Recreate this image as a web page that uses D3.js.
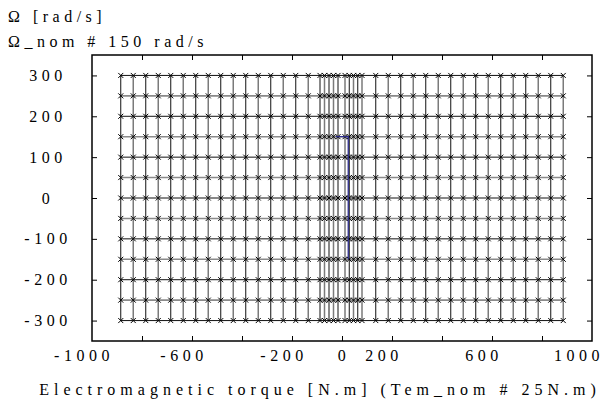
<!DOCTYPE html>
<html>
<head>
<meta charset="utf-8">
<script src="https://cdn.jsdelivr.net/npm/d3@7"></script>
<style>
  body { margin: 0; background: #fff; }
</style>
</head>
<body>
<svg id="chart" width="613" height="405"></svg>
<script>
/* Operating points: torque columns [N.m] and speed rows [rad/s] */
var torqueCols = [-885, -835, -785, -735, -685, -635, -585, -535, -485, -435, -385, -335, -285, -235, -185, -135,
	-88, -70, -52, -34, -16, 12, 29, 46, 63, 80,
	135, 185, 235, 285, 335, 385, 435, 485, 535, 585, 635, 685, 735, 785, 835, 885];
var speedRows = [-300, -250, -200, -150, -100, -50, 0, 50, 100, 150, 200, 250, 300];

/* Nominal operating limit (blue trace) */
var nomTorque = [-25, 25, 25];
var nomSpeed = [150, 150, -150];

/* Axis ticks and labels */
var xTicks = [-800, -600, -400, -200, 0, 200, 400, 600, 800];
var xLabels = [-1000, -600, -200, 0, 200, 600, 1000];
var yTicks = [-300, -200, -100, 0, 100, 200, 300];

var FONT = "'Liberation Serif'";

var svg = d3.select("#chart");

var x = d3.scaleLinear().domain([-1000, 1000]).range([92, 592]);
var y = d3.scaleLinear().domain([-350, 350]).range([341, 55]);

/* Grid of operating points */
var grid = svg.append("g");

// horizontal lines, alternating shades
grid.selectAll(".row")
	.data(speedRows)
	.enter().append("line")
	.attr("x1", x(d3.min(torqueCols)))
	.attr("x2", x(d3.max(torqueCols)))
	.attr("y1", function(d) { return y(d); })
	.attr("y2", function(d) { return y(d); })
	.attr("stroke", function(d, i) { return i % 2 ? "#8a8a8a" : "#111"; })
	.attr("stroke-width", function(d, i) { return i % 2 ? 1.6 : 1; });

// vertical lines
grid.selectAll(".col")
	.data(torqueCols)
	.enter().append("line")
	.attr("x1", function(d) { return x(d); })
	.attr("x2", function(d) { return x(d); })
	.attr("y1", y(d3.min(speedRows)))
	.attr("y2", y(d3.max(speedRows)))
	.attr("stroke", function(d, i) { return i % 2 ? "#7a7a7a" : "#111"; })
	.attr("stroke-width", function(d, i) { return i % 2 ? 1.5 : 1; });

// x markers at each point
var points = [];
speedRows.forEach(function(s) {
	torqueCols.forEach(function(t) { points.push([t, s]); });
});
grid.selectAll(".pt")
	.data(points)
	.enter().append("path")
	.attr("d", function(d) {
		var px = x(d[0]), py = y(d[1]), r = 2.5;
		return "M" + (px - r) + "," + (py - r) + "L" + (px + r) + "," + (py + r) +
			"M" + (px - r) + "," + (py + r) + "L" + (px + r) + "," + (py - r);
	})
	.attr("stroke", "#000")
	.attr("stroke-width", 1);

// blue nominal trace
svg.append("path")
	.datum(d3.zip(nomTorque, nomSpeed))
	.attr("fill", "none")
	.attr("stroke", "#2b2b8c")
	.attr("stroke-width", 1.3)
	.attr("d", d3.line().x(function(d) { return x(d[0]); }).y(function(d) { return y(d[1]); }));

/* Frame with inward ticks */
svg.append("rect")
	.attr("x", 92).attr("y", 55)
	.attr("width", 500).attr("height", 286)
	.attr("fill", "none")
	.attr("stroke", "#000")
	.attr("stroke-width", 1.5);

function ticksOnly(axis) {
	return axis.tickSizeInner(-5).tickSizeOuter(0).tickFormat("");
}
svg.append("g").attr("transform", "translate(0,341)").call(ticksOnly(d3.axisBottom(x).tickValues(xTicks)));
svg.append("g").attr("transform", "translate(0,55)").call(ticksOnly(d3.axisTop(x).tickValues(xTicks)));
svg.append("g").attr("transform", "translate(92,0)").call(ticksOnly(d3.axisLeft(y).tickValues(yTicks)));
svg.append("g").attr("transform", "translate(592,0)").call(ticksOnly(d3.axisRight(y).tickValues(yTicks)));
svg.selectAll(".domain").remove();
svg.selectAll(".tick line").attr("stroke", "#000").attr("stroke-width", 1);

/* Text helper */
function label(sel, size, spacing) {
	return sel.style("font-family", FONT)
		.style("font-size", size + "px")
		.style("letter-spacing", spacing + "px")
		.attr("fill", "#000");
}

/* Tick labels (non-zero ones sit a little left of their tick) */
var xl = label(svg.selectAll(".xlab")
	.data(xLabels)
	.enter().append("text")
	.attr("x", function(d) { return d === 0 ? x(d) + 2 : x(d) - 8; })
	.attr("y", 361)
	.attr("text-anchor", "middle")
	.text(function(d) { return d; }), 16, 4.5);

// keep the outer labels inside the picture
xl.each(function() {
	var b = this.getBBox();
	if (b.x + b.width > 604) d3.select(this).attr("x", +d3.select(this).attr("x") - (b.x + b.width - 604));
});

label(svg.selectAll(".ylab")
	.data(yTicks)
	.enter().append("text")
	.attr("x", 48)
	.attr("y", function(d) { return y(d); })
	.attr("dy", "0.35em")
	.attr("text-anchor", "middle")
	.text(function(d) { return d; }), 16, 4.5);

/* Axis titles */
label(svg.append("text").attr("x", 8).attr("y", 22).text("Ω [rad/s]"), 16, 4.5);
label(svg.append("text").attr("x", 8).attr("y", 47).text("Ω_nom # 150 rad/s"), 16, 4.5);
label(svg.append("text")
	.attr("x", 320).attr("y", 395)
	.attr("text-anchor", "middle")
	.text("Electromagnetic torque [N.m] (Tem_nom # 25N.m)"), 16, 5);
</script>
</body>
</html>
